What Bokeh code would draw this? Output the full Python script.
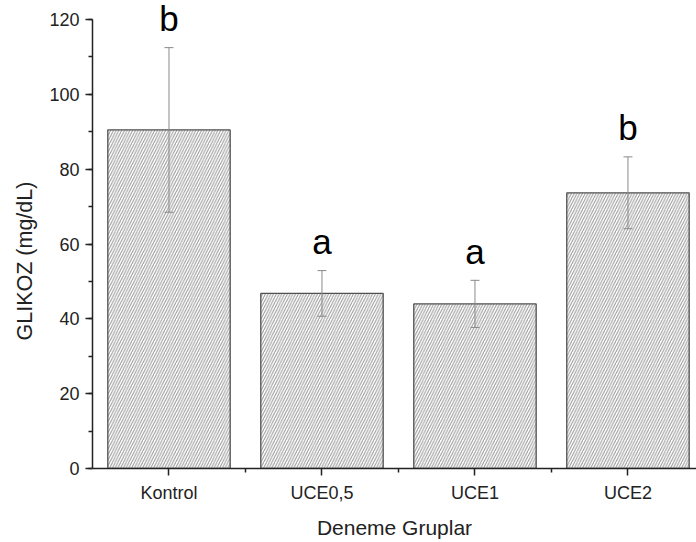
from bokeh.plotting import figure
from bokeh.models import ColumnDataSource, Range1d, FixedTicker, SingleIntervalTicker, Whisker, Title
from bokeh.core.properties import value
from bokeh.embed import file_html
from bokeh.resources import INLINE

# Group names, mean glucose and error (mg/dL), significance letters
groups = ["Kontrol", "UCE0,5", "UCE1", "UCE2"]
means = [90.5, 46.8, 44.0, 73.7]
errors = [22.0, 6.1, 6.3, 9.6]
letters = ["b", "a", "a", "b"]

X_START, X_END = 0.5, 4.448
Y_MAX = 125.1
FRAME_H = 468
px_per_y = FRAME_H / Y_MAX

# letters are lifted above the top of each error bar
letter_gap = 29 / px_per_y

xs = list(range(1, len(groups) + 1))
upper = [m + e for m, e in zip(means, errors)]
src = ColumnDataSource(dict(
    x=xs, top=means,
    upper=upper,
    lower=[m - e for m, e in zip(means, errors)],
    letter=letters,
    letter_y=[u + letter_gap for u in upper],
))

FONT = "Liberation Sans"

p = figure(width=696, height=542, output_backend="svg", toolbar_location=None,
           x_range=Range1d(X_START, X_END), y_range=Range1d(0, Y_MAX),
           min_border_left=92, min_border_right=0, min_border_top=0, min_border_bottom=74)
p.outline_line_color = None
p.xgrid.visible = False
p.ygrid.visible = False
p.background_fill_color = "white"

# Hatched bars
p.vbar(x="x", top="top", width=0.8, source=src,
       fill_color="white", line_color="#505050", line_width=1.3,
       hatch_pattern="/", hatch_color="#969696", hatch_weight=1, hatch_scale=5.5)

# Error bars, drawn over the bars
wh = Whisker(base="x", upper="upper", lower="lower", source=src,
             line_color="#8a8a8a", line_width=1, level="overlay")
for head in (wh.upper_head, wh.lower_head):
    head.size = 9
    head.line_color = "#8a8a8a"
p.add_layout(wh)

# Significance letters above the error bars
p.text(x="x", y="letter_y", text="letter", source=src,
       text_align="center", text_baseline="alphabetic",
       text_font=value(FONT), text_font_size="35px", text_color="black")

# Y axis
p.yaxis.ticker = SingleIntervalTicker(interval=20, num_minor_ticks=2)
p.yaxis.bounds = (0, 120)
# X axis
p.xaxis.ticker = FixedTicker(ticks=xs, minor_ticks=[1.5, 2.5, 3.5])
p.xaxis.major_label_overrides = {x: g for x, g in zip(xs, groups)}
p.xaxis.axis_label = "Deneme Gruplar"

for ax in (p.xaxis[0], p.yaxis[0]):
    ax.axis_line_color = "#222222"
    ax.axis_line_width = 1.5
    ax.major_tick_line_color = "#222222"
    ax.minor_tick_line_color = "#222222"
    ax.major_tick_line_width = 1.5
    ax.minor_tick_line_width = 1.5
    ax.major_tick_in = 0
    ax.major_tick_out = 7
    ax.minor_tick_in = 0
    ax.minor_tick_out = 4
    ax.major_label_text_font = FONT
    ax.major_label_text_font_size = "18px"
    ax.major_label_text_color = "#222222"
    ax.axis_label_text_font = FONT
    ax.axis_label_text_font_style = "normal"
    ax.axis_label_text_color = "#222222"

p.xaxis.axis_label_text_font_size = "21px"
p.yaxis.major_label_standoff = 6
p.xaxis.major_label_standoff = 7
p.xaxis.axis_label_standoff = 10

# Y axis title on the left, starting some way above the bottom of the axis
p.add_layout(Title(text="GLIKOZ (mg/dL)", align="left", offset=128, standoff=20,
                   text_font=FONT, text_font_size="21.5px", text_font_style="normal",
                   text_color="#222222"), "left")

open("out.html", "w").write(file_html(p, INLINE))
